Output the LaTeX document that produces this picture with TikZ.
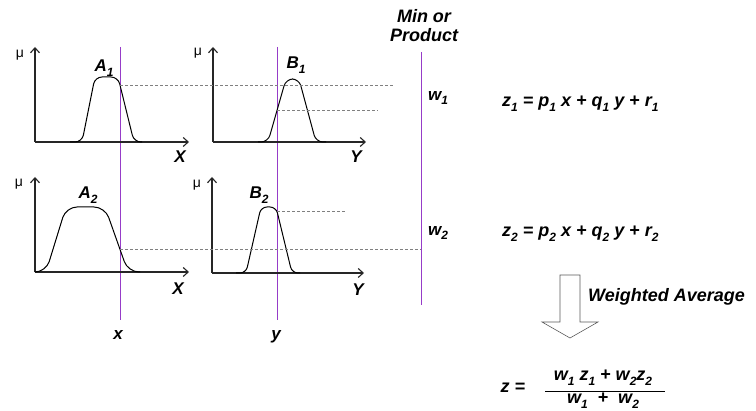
\documentclass[tikz,border=0pt]{standalone}
\usepackage{fontspec}
\setmainfont{Liberation Sans}
\usetikzlibrary{arrows.meta,intersections}
\newcommand{\lsub}[1]{\raisebox{-0.5ex}{\fontsize{12}{12}\selectfont #1}}
\definecolor{guidecol}{RGB}{150,60,200}

\begin{document}
\begin{tikzpicture}[x=1pt,y=-1pt,
  axis/.style={line width=1.1pt, black!85, -{Straight Barb[length=5pt,width=9pt]}},
  mf/.style={line width=1pt},
  guideline/.style={guidecol, line width=0.9pt},
  level/.style={gray, line width=0.5pt, dash pattern=on 2.5pt off 2.5pt},
  lbl/.style={font=\fontsize{17}{17}\selectfont\bfseries\itshape, inner sep=0pt},
  eq/.style={font=\fontsize{18}{18}\selectfont\bfseries\itshape, inner sep=0pt},
  big/.style={font=\fontsize{18}{19}\selectfont\bfseries\itshape, inner sep=0pt, align=center},
  mu/.style={font=\fontsize{14}{14}\selectfont, inner sep=0pt},
  hollow/.style={gray!70!black, line width=0.6pt}]
\useasboundingbox (0,0) rectangle (756,411);

% Guide lines for the inputs and the firing strengths
\coordinate (xtop) at (120,47);
\coordinate (xbot) at (120,320);
\coordinate (ytop) at (277,47);
\coordinate (ybot) at (277,320);
\coordinate (wtop) at (421,52);
\coordinate (wbot) at (421,305);
\draw[guideline, name path=xline] (xtop) -- (xbot);
\draw[guideline, name path=yline] (ytop) -- (ybot);
\draw[guideline] (wtop) -- (wbot);
\node[lbl] (xval) at (118,335) {x};
\node[lbl] (yval) at (276,337) {y};

% Rule 1: A1
\draw[axis] (35,142) -- (35,47);
\draw[axis] (35,142) -- (189,142);
\node[mu] (muA1) at (20,55) {μ};
\node[lbl] (XA1) at (180,157) {X};
\draw[mf, rounded corners=7pt, name path=A1] (70,142) -- (82,142) -- (95,77)
  -- (118,77) -- (134,142) -- (142,142);
\node[lbl] (A1) at (104,68) {A\lsub{1}};

% Rule 1: B1
\draw[axis] (213,142) -- (213,47);
\draw[axis] (213,142) -- (366,142);
\node[mu] (muB1) at (198,53) {μ};
\node[lbl] (YB1) at (356,157) {Y};
\draw[mf, rounded corners=7pt, name path=B1] (258,142) -- (268,142) -- (286,79)
  -- (299,79) -- (316,142) -- (326,142);
\node[lbl] (B1) at (296,65) {B\lsub{1}};

% Rule 2: A2
\draw[axis] (35,272) -- (35,177);
\draw[axis] (35,272) -- (189,272);
\node[mu] (muA2) at (19,184) {μ};
\node[lbl] (XA2) at (178,289) {X};
\draw[mf, rounded corners=11pt, name path=A2] (36,272) -- (46,272) -- (66,207)
  -- (105,207) -- (128,272) -- (140,272);
\node[lbl] (A2) at (88,195) {A\lsub{2}};

% Rule 2: B2
\draw[axis] (212,273) -- (212,177);
\draw[axis] (212,273) -- (364,273);
\node[mu] (muB2) at (197,185) {μ};
\node[lbl] (YB2) at (358,290) {Y};
\draw[mf, rounded corners=6pt, name path=B2] (236,273) -- (246,273) -- (261,207)
  -- (276,207) -- (292,273) -- (300,273);
\node[lbl] (B2) at (259,195) {B\lsub{2}};

% Membership levels
\coordinate (lvlA1) at (393,0);
\coordinate (lvlB1) at (378,0);
\coordinate (lvlB2) at (345,0);
\path[name intersections={of=A1 and xline, by=a1}];
\path[name intersections={of=B1 and yline, by=b1}];
\path[name intersections={of=A2 and xline, by=a2}];
\path[name intersections={of=B2 and yline, by=b2}];
\draw[level] (a1) -- (a1 -| lvlA1);
\draw[level] (b1) -- (b1 -| lvlB1);
\draw[level] (a2) -- (a2 -| wtop);
\draw[level] (b2) -- (b2 -| lvlB2);

% Firing strengths
\node[big] (minprod) at (424,26) {Min or\\Product};
\node[lbl] (w1) at (438,98) {w\lsub{1}};
\node[lbl] (w2) at (438,233) {w\lsub{2}};

% Rule outputs
\node[eq, anchor=west] (z1) at (502,104) {z\lsub{1} = p\lsub{1} x + q\lsub{1} y + r\lsub{1}};
\node[eq, anchor=west] (z2) at (502,234) {z\lsub{2} = p\lsub{2} x + q\lsub{2} y + r\lsub{2}};

% Weighted average
\draw[hollow] (560,275) -- (580,275) -- (580,322) -- (598,322) -- (570,338)
  -- (542,322) -- (560,322) -- cycle;
\node[big, anchor=west] (wavg) at (588,297) {Weighted Average};

\node[eq] (zeq) at (513,388) {z =};
\node[eq] (num) at (603,378) {w\lsub{1} z\lsub{1} + w\lsub{2}z\lsub{2}};
\node[eq] (den) at (603,401) {w\lsub{1} \ + \ w\lsub{2}};
\draw[line width=0.8pt] (545,391) -- (665,391);
\end{tikzpicture}
\end{document}
